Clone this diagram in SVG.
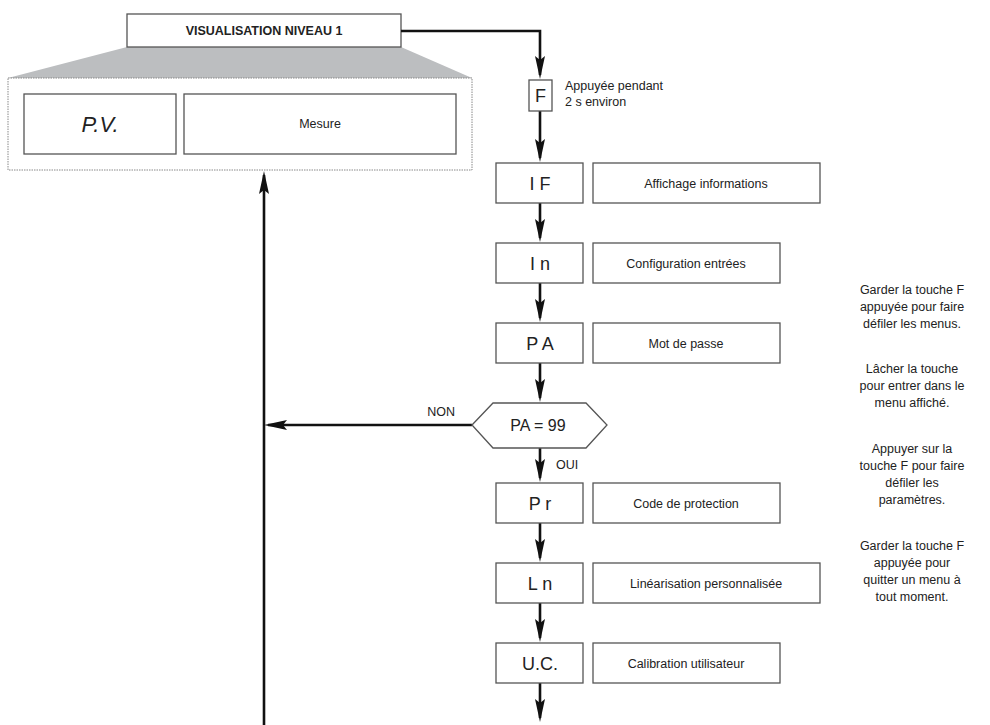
<svg xmlns="http://www.w3.org/2000/svg" width="990" height="725" viewBox="0 0 990 725">
<defs>
<marker id="ah" viewBox="-20 -6 25 12" refX="0" refY="0" markerWidth="25" markerHeight="12" markerUnits="userSpaceOnUse" orient="auto">
<path d="M4,0 L-19,-5 L-15,0 L-19,5 Z" fill="#111"/>
</marker>
</defs>
<style>
text{font-family:"Liberation Sans",Arial,sans-serif;fill:#222}
.box{fill:#fff;stroke:#555;stroke-width:1.3}
.code{font-size:18px;text-anchor:middle}
.desc{font-size:12.5px;text-anchor:middle}
.note{font-size:12.5px;text-anchor:middle}
.ln{fill:none;stroke:#111;stroke-width:2.6;marker-end:url(#ah)}
</style>
<rect width="990" height="725" fill="#fff"/>
<g id="visualisation">
<polygon points="127,47 401,47 472,78 8,78" fill="#bcbec0"/>
<rect x="127" y="14" width="274" height="33" class="box"/>
<text x="264" y="35" style="font-size:12.5px;font-weight:bold;text-anchor:middle">VISUALISATION NIVEAU 1</text>
<rect x="8" y="78" width="464" height="92" fill="#fff" stroke="#888" stroke-width="1" stroke-dasharray="1.5,1"/>
<rect x="24" y="94" width="152" height="60" class="box"/>
<text x="100" y="132" style="font-size:22px;font-style:italic;text-anchor:middle">P.V.</text>
<rect x="184" y="94" width="272" height="60" class="box"/>
<text x="320" y="128" class="desc">Mesure</text>
</g>
<g id="connectors">
<path class="ln" d="M401,31 H540 V75"/>
<path class="ln" d="M540,111 V158"/>
<path class="ln" d="M540,203 V238"/>
<path class="ln" d="M540,283 V318"/>
<path class="ln" d="M540,363 V398"/>
<path class="ln" d="M540,448 V478"/>
<path class="ln" d="M540,523 V558"/>
<path class="ln" d="M540,603 V638"/>
<path class="ln" d="M540,683 V718"/>
<path class="ln" d="M472,425 H268"/>
<path class="ln" d="M264,725 V175"/>
<text x="455" y="416" style="font-size:12.5px;text-anchor:end">NON</text>
<text x="556" y="469" style="font-size:12.5px">OUI</text>
</g>
<g id="F">
<rect x="529" y="80" width="23" height="31" class="box"/>
<text x="540.5" y="102" class="code">F</text>
<text x="565" y="90" style="font-size:12.5px">Appuyée pendant</text>
<text x="565" y="106" style="font-size:12.5px">2 s environ</text>
</g>
<g id="IF">
<rect x="496" y="163" width="87" height="40" class="box"/>
<text x="540" y="190" class="code">I F</text>
<rect x="593" y="163" width="227" height="40" class="box"/>
<text x="706" y="188" class="desc">Affichage informations</text>
</g>
<g id="In">
<rect x="496" y="243" width="87" height="40" class="box"/>
<text x="540" y="270" class="code">I n</text>
<rect x="593" y="243" width="187" height="40" class="box"/>
<text x="686" y="268" class="desc">Configuration entrées</text>
</g>
<g id="PA">
<rect x="496" y="323" width="87" height="40" class="box"/>
<text x="540" y="350" class="code">P A</text>
<rect x="593" y="323" width="187" height="40" class="box"/>
<text x="686" y="348" class="desc">Mot de passe</text>
</g>
<g id="PA99">
<polygon points="472,425 493,403 586,403 607,425 586,448 493,448" class="box"/>
<text x="538" y="431" style="font-size:16px;text-anchor:middle">PA = 99</text>
</g>
<g id="Pr">
<rect x="496" y="483" width="87" height="40" class="box"/>
<text x="540" y="510" class="code">P r</text>
<rect x="593" y="483" width="187" height="40" class="box"/>
<text x="686" y="508" class="desc">Code de protection</text>
</g>
<g id="Ln">
<rect x="496" y="563" width="87" height="40" class="box"/>
<text x="540" y="590" class="code">L n</text>
<rect x="593" y="563" width="227" height="40" class="box"/>
<text x="706" y="588" class="desc">Linéarisation personnalisée</text>
</g>
<g id="UC">
<rect x="496" y="643" width="87" height="40" class="box"/>
<text x="540" y="670" class="code">U.C.</text>
<rect x="593" y="643" width="187" height="40" class="box"/>
<text x="686" y="668" class="desc">Calibration utilisateur</text>
</g>
<g id="notes">
<text class="note" x="912" y="294">Garder la touche F</text>
<text class="note" x="912" y="311">appuyée pour faire</text>
<text class="note" x="912" y="328">défiler les menus.</text>
<text class="note" x="912" y="373">Lâcher la touche</text>
<text class="note" x="912" y="390">pour entrer dans le</text>
<text class="note" x="912" y="407">menu affiché.</text>
<text class="note" x="912" y="453">Appuyer sur la</text>
<text class="note" x="912" y="470">touche F pour faire</text>
<text class="note" x="912" y="487">défiler les</text>
<text class="note" x="912" y="504">paramètres.</text>
<text class="note" x="912" y="550">Garder la touche F</text>
<text class="note" x="912" y="567">appuyée pour</text>
<text class="note" x="912" y="584">quitter un menu à</text>
<text class="note" x="912" y="601">tout moment.</text>
</g>
</svg>
